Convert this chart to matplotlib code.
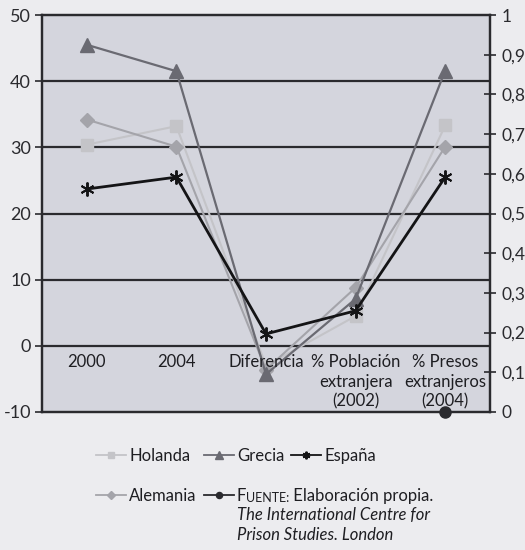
import numpy as np
import matplotlib.pyplot as plt

plt.rcParams["font.family"] = ["Lato", "DejaVu Sans"]

# data (left axis units)
categories = ["2000", "2004", "Diferencia", "% Población\nextranjera\n(2002)",
              "% Presos\nextranjeros\n(2004)"]
holanda = [30.4, 33.2, -3.0, 4.5, 33.3]
grecia = [45.5, 41.5, -4.3, 7.1, 41.6]
espana = [23.7, 25.5, 1.8, 5.3, 25.5]
alemania = [34.2, 30.1, -3.6, 8.8, 30.1]
fuente = [np.nan, np.nan, np.nan, np.nan, 0.0]  # drawn on the right axis

left_ticks = [-10, 0, 10, 20, 30, 40, 50]
right_ticks = [0, 0.1, 0.2, 0.3, 0.4, 0.5, 0.6, 0.7, 0.8, 0.9, 1.0]
right_labels = ["0", "0,1", "0,2", "0,3", "0,4", "0,5", "0,6", "0,7", "0,8", "0,9", "1"]

FIG_BG = "#ececef"
PLOT_BG = "#d4d5dd"
INK = "#2a2a2e"
TEXT = "#1e1e22"

fig = plt.figure(figsize=(5.25, 5.5), dpi=100, facecolor=FIG_BG)
ax = fig.add_axes([42 / 525, 1 - 412 / 550, 448 / 525, 397 / 550])
ax.set_facecolor(PLOT_BG)
x = np.arange(len(categories))

ax.set_xlim(-0.5, len(categories) - 0.5)
ax.set_ylim(-10, 50)
ax.set_yticks(left_ticks)
ax.set_yticklabels([str(t) for t in left_ticks], fontsize=13, color=INK)
ax.tick_params(axis="y", direction="out", length=5, width=1.2, color=INK, pad=3)
ax.set_xticks([])
for v in left_ticks[1:-1]:
    ax.axhline(v, color=INK, lw=1.6, zorder=1)
for s in ax.spines.values():
    s.set_color(INK)
    s.set_linewidth(1.6)

l_hol, = ax.plot(x, holanda, color="#c4c4c8", lw=1.5, marker="s", ms=8,
                 mec="#c4c4c8", mfc="#c4c4c8", zorder=3)
l_gre, = ax.plot(x, grecia, color="#6a6a72", lw=1.6, marker="^", ms=10,
                 mec="#6a6a72", mfc="#6a6a72", zorder=4)
l_esp, = ax.plot(x, espana, color="#141416", lw=2.0, marker=(6, 2, 0), ms=10,
                 mew=1.4, mec="#141416", zorder=5)
l_ale, = ax.plot(x, alemania, color="#a4a4aa", lw=1.5, marker="D", ms=7,
                 mec="#a4a4aa", mfc="#a4a4aa", zorder=3)

for i, lab in enumerate(categories):
    ax.text(x[i], -1.2, lab, ha="center", va="top", fontsize=12, color=TEXT,
            linespacing=1.3, zorder=6)

ax2 = ax.twinx()
ax2.set_ylim(0, 1)
ax2.set_yticks(right_ticks)
ax2.set_yticklabels(right_labels, fontsize=12.5, color=INK)
ax2.tick_params(axis="y", direction="inout", length=9, width=1.2, color=INK, pad=4)
for s in ax2.spines.values():
    s.set_color(INK)
    s.set_linewidth(1.6)
l_fue, = ax2.plot(x, fuente, color="#2a2a2e", lw=2.0, marker="o", ms=8,
                  clip_on=False, zorder=6)

leg = fig.legend([l_hol, l_ale, l_gre, l_fue, l_esp],
                 ["Holanda", "Alemania", "Grecia", "F", "España"],
                 ncol=3, loc="upper left", bbox_to_anchor=(96 / 525, 1 - 448 / 550),
                 frameon=False, fontsize=12, handlelength=1.8, handletextpad=0.2,
                 columnspacing=0.4, labelspacing=1.45, borderpad=0, borderaxespad=0,
                 markerscale=0.55)
for t in leg.get_texts():
    t.set_color(TEXT)
for ln in leg.get_lines():
    ln.set_linewidth(1.3)
f_text = leg.get_texts()[3]

# small-caps "FUENTE:" and the source note, chained to the legend label
a1 = fig.add_artist(plt.Annotation("UENTE:", xy=(1, 0), xycoords=f_text, va="bottom",
                                   ha="left", fontsize=9, color=TEXT, zorder=10))
fig.add_artist(plt.Annotation(" Elaboración propia.", xy=(1, 0), xycoords=a1,
                              va="bottom", ha="left", fontsize=12, color=TEXT,
                              zorder=11))
fig.add_artist(plt.Annotation("The International Centre for\nPrison Studies. London",
                              xy=(0, 0), xycoords=f_text, xytext=(0, -2),
                              textcoords="offset points", va="top", ha="left",
                              fontsize=12, style="italic", color=TEXT,
                              linespacing=1.3, zorder=10))

fig.savefig("out.png", dpi=100, facecolor=FIG_BG)
